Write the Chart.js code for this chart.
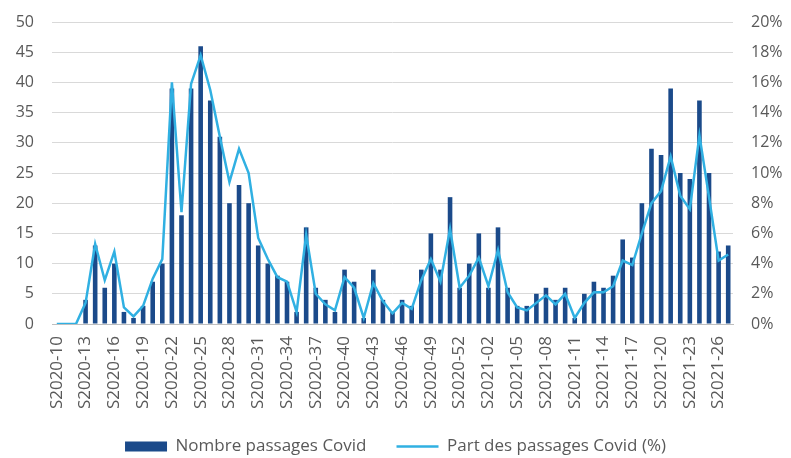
<!DOCTYPE html>
<html>
<head>
<meta charset="utf-8">
<script src="https://cdn.jsdelivr.net/npm/chart.js@4/dist/chart.umd.min.js"></script>
<style>
  html, body { margin: 0; padding: 0; background: #fff; }
  #wrap { width: 791px; height: 458px; position: relative; }
</style>
</head>
<body>
<div id="wrap"><canvas id="covidChart"></canvas></div>
<script>
// Semaines (S2020-10 -> S2021-27)
const semaines = [
    'S2020-10','S2020-11','S2020-12','S2020-13','S2020-14','S2020-15','S2020-16','S2020-17','S2020-18','S2020-19',
    'S2020-20','S2020-21','S2020-22','S2020-23','S2020-24','S2020-25','S2020-26','S2020-27','S2020-28','S2020-29',
    'S2020-30','S2020-31','S2020-32','S2020-33','S2020-34','S2020-35','S2020-36','S2020-37','S2020-38','S2020-39',
    'S2020-40','S2020-41','S2020-42','S2020-43','S2020-44','S2020-45','S2020-46','S2020-47','S2020-48','S2020-49',
    'S2020-50','S2020-51','S2020-52','S2020-53','S2021-01','S2021-02','S2021-03','S2021-04','S2021-05','S2021-06',
    'S2021-07','S2021-08','S2021-09','S2021-10','S2021-11','S2021-12','S2021-13','S2021-14','S2021-15','S2021-16',
    'S2021-17','S2021-18','S2021-19','S2021-20','S2021-21','S2021-22','S2021-23','S2021-24','S2021-25','S2021-26',
    'S2021-27'
];

// Nombre de passages Covid (axe gauche)
const nbPassages = [
    0, 0, 0, 4, 13, 6, 10, 2, 1, 3,
    7, 10, 39, 18, 39, 46, 37, 31, 20, 23,
    20, 13, 10, 8, 7, 2, 16, 6, 4, 2,
    9, 7, 1, 9, 4, 2, 4, 3, 9, 15,
    9, 21, 6, 10, 15, 6, 16, 6, 3, 3,
    5, 6, 4, 6, 1, 5, 7, 6, 8, 14,
    11, 20, 29, 28, 39, 25, 24, 37, 25, 12,
    13
];

// Part des passages Covid en % (axe droit)
const partPassages = [
    0, 0, 0, 1.4, 5.3, 2.9, 4.8, 1.1, 0.5, 1.2,
    3.0, 4.3, 16.0, 7.4, 15.9, 17.8, 15.5, 12.4, 9.4, 11.6,
    10.0, 5.7, 4.3, 3.1, 2.8, 0.8, 5.9, 2.0, 1.3, 0.9,
    3.1, 2.4, 0.4, 2.7, 1.5, 0.7, 1.4, 1.0, 2.9, 4.3,
    2.8, 6.3, 2.4, 3.2, 4.4, 2.5, 4.9, 2.1, 1.1, 0.9,
    1.4, 1.9, 1.3, 2.0, 0.4, 1.4, 2.1, 2.1, 2.5, 4.2,
    3.9, 6.0, 8.0, 8.8, 11.1, 8.5, 7.6, 12.5, 8.4, 4.2,
    4.6
];

const ticksGauche = [0, 5, 10, 15, 20, 25, 30, 35, 40, 45, 50];
const ticksDroite = [0, 2, 4, 6, 8, 10, 12, 14, 16, 18, 20];

const gris = '#595959';
const police = "'Open Sans', 'DejaVu Sans', sans-serif";

new Chart(document.getElementById('covidChart'), {
    type: 'bar',
    data: {
        labels: semaines,
        datasets: [{
            label: 'Nombre passages Covid',
            data: nbPassages,
            backgroundColor: '#1B4A8A',
            borderWidth: 0,
            barPercentage: 0.48,
            categoryPercentage: 1.0,
            yAxisID: 'y',
            order: 2
        }, {
            type: 'line',
            label: 'Part des passages Covid (%)',
            data: partPassages,
            borderColor: '#30B0E2',
            backgroundColor: '#30B0E2',
            borderWidth: 2.5,
            pointRadius: 0,
            pointStyle: 'line',
            tension: 0,
            yAxisID: 'y2',
            order: 1
        }]
    },
    options: {
        responsive: true,
        maintainAspectRatio: false,
        animation: false,
        layout: { padding: { top: 22, bottom: -7 } },
        plugins: {
            tooltip: { enabled: false },
            legend: {
                position: 'bottom',
                labels: {
                    color: gris,
                    font: { family: police, size: 17 },
                    usePointStyle: true,
                    pointStyleWidth: 42,
                    boxHeight: 10,
                    padding: 30,
                    sort: (a, b) => a.datasetIndex - b.datasetIndex,
                    generateLabels: chart => Chart.defaults.plugins.legend.labels.generateLabels(chart)
                        .map(item => ({ ...item, pointStyle: item.datasetIndex === 0 ? 'rect' : 'line' }))
                }
            }
        },
        scales: {
            x: {
                grid: { display: false, drawTicks: false },
                border: { display: true, color: '#BFBFBF' },
                ticks: {
                    color: gris,
                    font: { family: police, size: 17 },
                    autoSkip: false,
                    minRotation: 90,
                    maxRotation: 90,
                    padding: 12,
                    callback: (val, idx) => idx % 3 === 0 ? semaines[idx] : ''
                },
                afterFit: scale => { scale.height = 84; }
            },
            y: {
                position: 'left',
                min: 0,
                max: 50,
                afterBuildTicks: scale => { scale.ticks = ticksGauche.map(v => ({ value: v })); },
                grid: { color: '#D9D9D9', drawTicks: true, tickLength: 18, tickColor: 'rgba(0,0,0,0)' },
                border: { display: false },
                ticks: {
                    color: gris,
                    font: { family: police, size: 16 },
                    padding: 0
                },
                afterFit: scale => { scale.width = 52; }
            },
            y2: {
                position: 'right',
                min: 0,
                max: 20,
                afterBuildTicks: scale => { scale.ticks = ticksDroite.map(v => ({ value: v })); },
                grid: { display: false, drawTicks: true, tickLength: 18 },
                border: { display: false },
                ticks: {
                    color: gris,
                    font: { family: police, size: 16 },
                    padding: 0,
                    callback: v => v + '%'
                },
                afterFit: scale => { scale.width = 58; }
            }
        }
    }
});
</script>
</body>
</html>
